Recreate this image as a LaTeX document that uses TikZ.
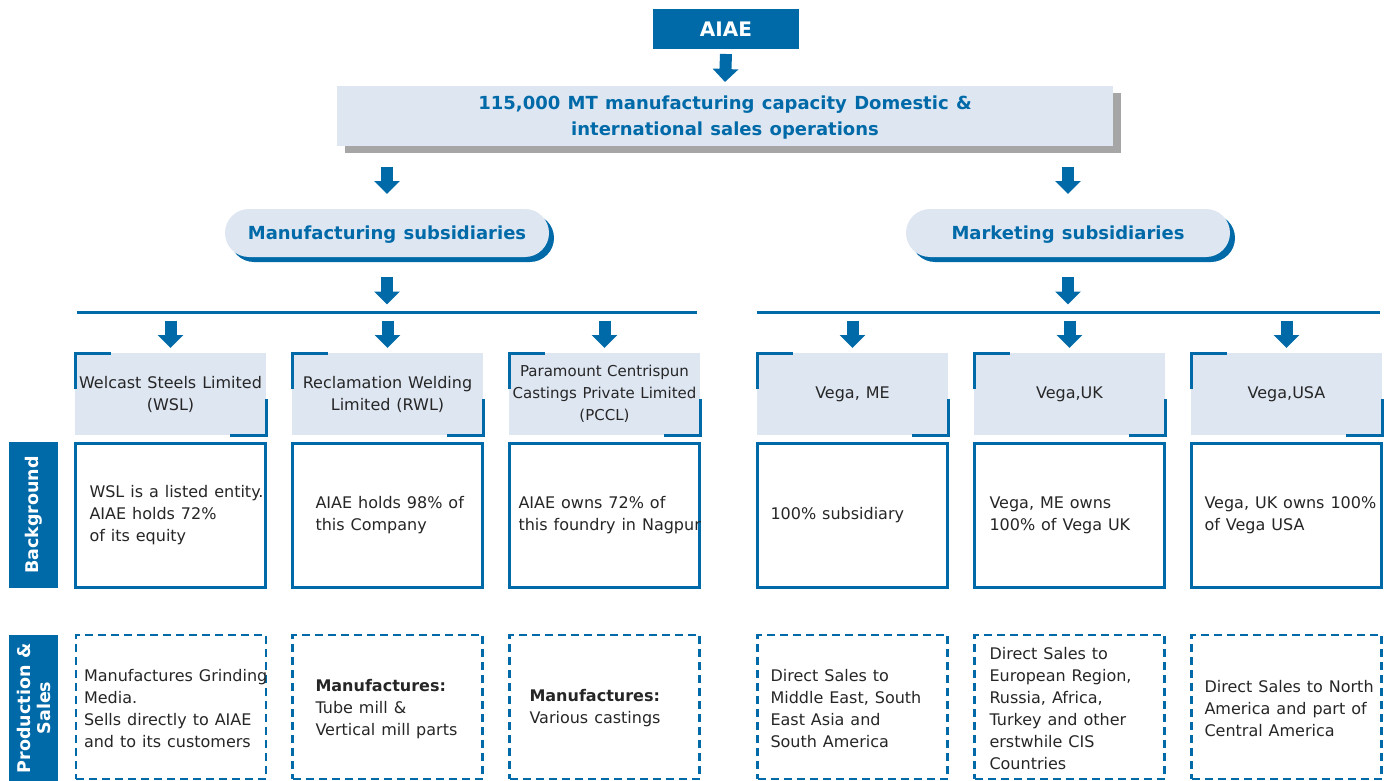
\documentclass[tikz,border=0pt]{standalone}
\usepackage{fontspec}
\setmainfont{DejaVu Sans}[WordSpace=1.17]
\usetikzlibrary{arrows.meta,calc,shadows}
\definecolor{corpblue}{RGB}{0,106,168}
\definecolor{paleblue}{RGB}{222,230,242}
\definecolor{bodytext}{RGB}{38,38,38}
\definecolor{shadowgray}{RGB}{166,166,166}

\begin{document}
\begin{tikzpicture}[x=1pt,y=-1pt,
  every node/.style={inner sep=0pt, outer sep=0pt},
  body/.style={font=\fontsize{16}{22}\selectfont, text=bodytext, align=left, anchor=west},
  headbox/.style={fill=paleblue, minimum width=191pt, minimum height=82pt,
    font=\fontsize{16}{22}\selectfont, text=bodytext, align=center},
  bgbox/.style={draw=corpblue, line width=3pt, fill=white,
    minimum width=190pt, minimum height=144pt},
  salesbox/.style={draw=corpblue, line width=2.5pt, dash pattern=on 8pt off 5pt,
    minimum width=190pt, minimum height=144pt},
  sidelabel/.style={fill=corpblue, text=white, font=\fontsize{17.5}{20}\selectfont\bfseries,
    minimum width=146pt, minimum height=49pt, rotate=90, align=center},
  pill/.style={fill=paleblue, rounded corners=24pt, minimum width=324pt, minimum height=48pt,
    text=corpblue, font=\fontsize{18}{22}\selectfont\bfseries, text depth=0pt,
    drop shadow={fill=corpblue, opacity=1, shadow xshift=5pt, shadow yshift=-5pt}},
  barrow/.style={draw=corpblue, line width=12pt, -{Triangle[length=13pt,width=25pt]}},
  bracket/.style={draw=corpblue, line width=3pt},
  rule/.style={draw=corpblue, line width=3pt}
]
\useasboundingbox (0,0) rectangle (1395,781);

% top of the hierarchy
\node[fill=corpblue, text=white, minimum width=146pt, minimum height=40pt,
  font=\fontsize{20}{24}\selectfont\bfseries] (aiae) at (726,29) {AIAE};
\node[fill=paleblue, minimum width=776pt, minimum height=60pt, text=corpblue,
  font=\fontsize{18}{26}\selectfont\bfseries, align=center, text depth=0pt,
  drop shadow={fill=shadowgray, opacity=1, shadow xshift=8pt, shadow yshift=-7pt}]
  (cap) at (725,116) {115,000 MT manufacturing capacity Domestic \&\\international sales operations};

% subsidiary groups
\node[pill] (manu) at (387,233) {Manufacturing subsidiaries};
\node[pill] (mark) at (1068,233) {Marketing subsidiaries};

\draw[barrow] ($(aiae.south)+(0,5)$) -- ($(cap.north)+(0,-4)$);
\draw[barrow] ($(manu.north |- cap.south)+(0,21)$) -- ($(manu.north)+(0,-15)$);
\draw[barrow] ($(mark.north |- cap.south)+(0,21)$) -- ($(mark.north)+(0,-15)$);

% distribution rules
\coordinate (mL) at (77,312.5);
\coordinate (mR) at (697,312.5);
\coordinate (kL) at (757,312.5);
\coordinate (kR) at (1380,312.5);
\draw[rule] (mL) -- (mR);
\draw[rule] (kL) -- (kR);
\draw[barrow] ($(manu.south)+(0,20)$) -- ($(manu.south |- mL)+(0,-8)$);
\draw[barrow] ($(mark.south)+(0,20)$) -- ($(mark.south |- kL)+(0,-8)$);

% company headers
\node[headbox] (h1) at (170.5,394) {Welcast Steels Limited\\(WSL)};
\node[headbox] (h2) at (387.5,394) {Reclamation Welding\\Limited (RWL)};
\node[headbox, font=\fontsize{15}{22}\selectfont] (h3) at (604.5,394)
  {Paramount Centrispun\\Castings Private Limited\\(PCCL)};
\node[headbox] (h4) at (852.5,394) {Vega, ME};
\node[headbox] (h5) at (1069.5,394) {Vega,UK};
\node[headbox] (h6) at (1286.5,394) {Vega,USA};

\foreach \h in {h1,h2,h3,h4,h5,h6}{
  \draw[bracket] ($(\h.north west)+(0,36)$) |- ($(\h.north west)+(36,0)$);
  \draw[bracket] ($(\h.south east)+(-36,0)$) -| ($(\h.south east)+(0,-36)$);
}
\foreach \h/\l in {h1/mL,h2/mL,h3/mL,h4/kL,h5/kL,h6/kL}{
  \draw[barrow] ($(\h.north |- \l)+(0,8)$) -- ($(\h.north)+(0,-5)$);
}

% row labels
\node[sidelabel] (lbg) at (33.5,515) {Background};
\node[sidelabel] (lps) at (33.5,708) {Production \&\\Sales};

% background row
\node[bgbox] (b1) at (170.5,515.5) {};
\node[bgbox] (b2) at (387.5,515.5) {};
\node[bgbox] (b3) at (604.5,515.5) {};
\node[bgbox] (b4) at (852.5,515.5) {};
\node[bgbox] (b5) at (1069.5,515.5) {};
\node[bgbox] (b6) at (1286.5,515.5) {};

\node[body] (tb1) at ($(b1.west)+(14,0)$) {WSL is a listed entity.\\AIAE holds 72\%\\of its equity};
\node[body] (tb2) at ($(b2.west)+(23,0)$) {AIAE holds 98\% of\\this Company};
\node[body] (tb3) at ($(b3.west)+(9,0)$) {AIAE owns 72\% of\\this foundry in Nagpur};
\node[body] (tb4) at ($(b4.west)+(13,0)$) {100\% subsidiary};
\node[body] (tb5) at ($(b5.west)+(15,0)$) {Vega, ME owns\\100\% of Vega UK};
\node[body] (tb6) at ($(b6.west)+(13,0)$) {Vega, UK owns 100\%\\of Vega USA};

% production and sales row
\node[salesbox] (s1) at (171,707) {};
\node[salesbox] (s2) at (387.5,707) {};
\node[salesbox] (s3) at (604.5,707) {};
\node[salesbox] (s4) at (852.5,707) {};
\node[salesbox] (s5) at (1069.5,707) {};
\node[salesbox] (s6) at (1286.5,707) {};

\node[body] (ts1) at ($(s1.west)+(8,2)$) {Manufactures Grinding\\Media.\\Sells directly to AIAE\\and to its customers};
\node[body] (ts2) at ($(s2.west)+(23,2)$) {\textbf{Manufactures:}\\Tube mill \&\\Vertical mill parts};
\node[body] (ts3) at ($(s3.west)+(20,1)$) {\textbf{Manufactures:}\\Various castings};
\node[body] (ts4) at ($(s4.west)+(13,2)$) {Direct Sales to\\Middle East, South\\East Asia and\\South America};
\node[body] (ts5) at ($(s5.west)+(15,2)$) {Direct Sales to\\European Region,\\Russia, Africa,\\Turkey and other\\erstwhile CIS\\Countries};
\node[body] (ts6) at ($(s6.west)+(13,2)$) {Direct Sales to North\\America and part of\\Central America};
\end{tikzpicture}
\end{document}
